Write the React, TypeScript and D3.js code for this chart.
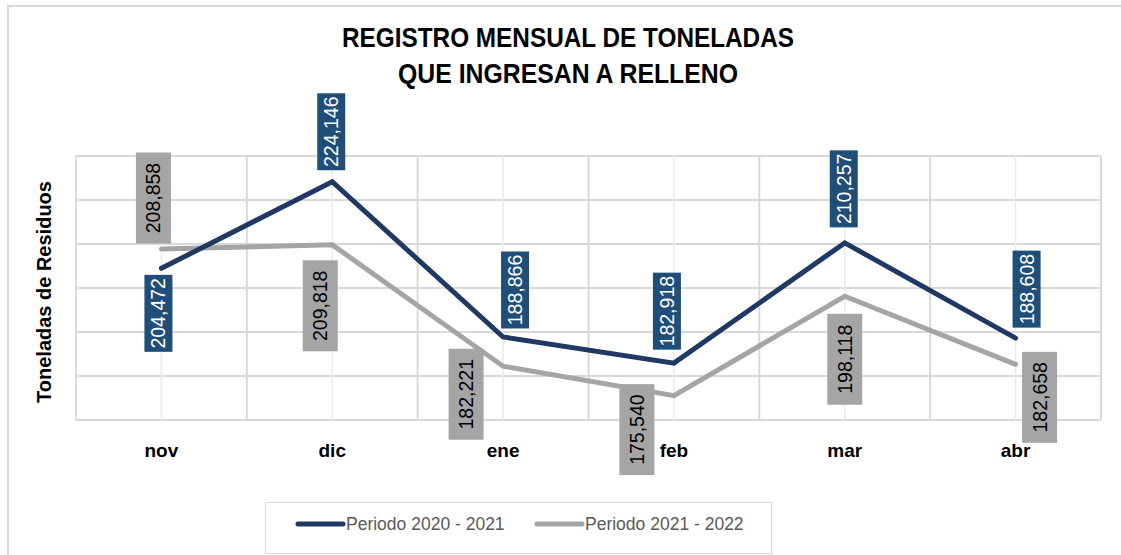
import React, { useRef, useEffect } from 'react';
import * as d3 from 'd3';

const months = ['nov', 'dic', 'ene', 'feb', 'mar', 'abr'];
const periodo2021 = [204472, 224146, 188866, 182918, 210257, 188608];
const periodo2022 = [208858, 209818, 182221, 175540, 198118, 182658];
const seriesNames = ['Periodo 2020 - 2021', 'Periodo 2021 - 2022'];
const titleLines = ['REGISTRO MENSUAL DE TONELADAS', 'QUE INGRESAN A RELLENO'];

// label box nudges (box centre relative to the point), hand placed like the original
const nudge2021 = [[-3, 45], [-1, -50], [12, -47], [-7, -52], [-1, -54], [11, -49]];
const nudge2022 = [[-8, -51], [-12, 61], [-37, 28], [-37, 34], [0, 63], [24, 33]];

const fmt = d3.format(',');

export default function App() {
    const ref = useRef<SVGSVGElement>(null);

    useEffect(() => {
        const svg = d3.select(ref.current);
        svg.selectAll('*').remove();

        const width = 1121;
        const height = 555;
        const left = 76, right = 1101, top = 156, bottom = 420;
        const font = '"Liberation Sans", Arial, sans-serif';

        svg.attr('width', width).attr('height', height).style('font-family', font);

        svg.append('rect').attr('width', width).attr('height', height).attr('fill', 'white');
        // outer chart border (runs off the picture on right/bottom)
        svg.append('rect')
            .attr('x', 8).attr('y', 6).attr('width', 1130).attr('height', 580)
            .attr('fill', 'none').attr('stroke', '#d9d9d9').attr('stroke-width', 2);

        const x = d3.scalePoint<string>().domain(months).range([left, right]).padding(0.5);
        const band = d3.scaleBand<string>().domain(months).range([left, right]);
        const y = d3.scaleLinear().domain([170000, 230000]).range([bottom, top]);

        // grid
        const grid = svg.append('g');
        grid.selectAll('line.h')
            .data(y.ticks(6))
            .join('line')
            .attr('x1', left).attr('x2', right)
            .attr('y1', d => y(d)).attr('y2', d => y(d))
            .attr('stroke', '#d9d9d9').attr('stroke-width', 2);
        grid.selectAll('line.c')
            .data(months)
            .join('line')
            .attr('x1', d => x(d)!).attr('x2', d => x(d)!)
            .attr('y1', top).attr('y2', bottom)
            .attr('stroke', '#ebebeb').attr('stroke-width', 1.5);
        const edges = months.map(m => band(m)!).concat([right]);
        grid.selectAll('line.b')
            .data(edges)
            .join('line')
            .attr('x1', d => d).attr('x2', d => d)
            .attr('y1', top).attr('y2', bottom)
            .attr('stroke', '#d9d9d9').attr('stroke-width', 2);

        // title
        svg.append('g').selectAll('text')
            .data(titleLines)
            .join('text')
            .attr('x', 568)
            .attr('y', (d, i) => 47 + i * 36)
            .attr('text-anchor', 'middle')
            .attr('font-size', 28)
            .attr('font-weight', 'bold')
            .attr('textLength', (d, i) => (i === 0 ? 452 : 340))
            .attr('lengthAdjust', 'spacingAndGlyphs')
            .attr('fill', '#000')
            .text(d => d);

        // y axis title
        svg.append('text')
            .attr('transform', `translate(51, ${(top + bottom) / 2 + 4}) rotate(-90)`)
            .attr('text-anchor', 'middle')
            .attr('font-size', 20)
            .attr('font-weight', 'bold')
            .attr('fill', '#000')
            .text('Toneladas de Residuos');

        // category labels
        svg.append('g').selectAll('text')
            .data(months)
            .join('text')
            .attr('x', d => x(d)!)
            .attr('y', 457)
            .attr('text-anchor', 'middle')
            .attr('font-size', 19)
            .attr('font-weight', 'bold')
            .attr('fill', '#000')
            .text(d => d);

        const series = [
            { name: seriesNames[0], values: periodo2021, line: '#1f3864', box: '#1f4e79', text: '#fff', w: 28, h: 77, nudge: nudge2021 },
            { name: seriesNames[1], values: periodo2022, line: '#a5a5a5', box: '#a5a5a5', text: '#000', w: 35, h: 91, nudge: nudge2022 },
        ];

        const line = d3.line<number>()
            .x((d, i) => x(months[i])!)
            .y(d => y(d));

        // draw gray first so navy sits on top
        [series[1], series[0]].forEach(s => {
            svg.append('path')
                .datum(s.values)
                .attr('d', line)
                .attr('fill', 'none')
                .attr('stroke', s.line)
                .attr('stroke-width', 5)
                .attr('stroke-linecap', 'round')
                .attr('stroke-linejoin', 'miter');
        });

        // data labels
        series.forEach(s => {
            const labels = svg.append('g').selectAll('g')
                .data(s.values)
                .join('g')
                .attr('transform', (d, i) => `translate(${x(months[i])! + s.nudge[i][0]}, ${y(d) + s.nudge[i][1]})`);
            labels.append('rect')
                .attr('x', -s.w / 2).attr('y', -s.h / 2)
                .attr('width', s.w).attr('height', s.h)
                .attr('fill', s.box);
            labels.append('text')
                .attr('transform', 'rotate(-90)')
                .attr('text-anchor', 'middle')
                .attr('dominant-baseline', 'central')
                .attr('font-size', 19.5)
                .attr('fill', s.text)
                .text(d => fmt(d));
        });

        // legend
        const legend = svg.append('g');
        legend.append('rect')
            .attr('x', 265.5).attr('y', 502.5).attr('width', 506).attr('height', 51)
            .attr('fill', 'white').attr('stroke', '#d9d9d9').attr('stroke-width', 1);
        const legendX = [298, 537];
        series.forEach((s, i) => {
            legend.append('line')
                .attr('x1', legendX[i]).attr('x2', legendX[i] + 45)
                .attr('y1', 524).attr('y2', 524)
                .attr('stroke', s.line).attr('stroke-width', 5)
                .attr('stroke-linecap', 'round');
            legend.append('text')
                .attr('x', legendX[i] + 48)
                .attr('y', 530)
                .attr('font-size', 17.5)
                .attr('fill', '#595959')
                .text(s.name);
        });
    }, []);

    return <svg ref={ref} style={{ position: 'absolute', left: 0, top: 0, display: 'block' }} />;
}
